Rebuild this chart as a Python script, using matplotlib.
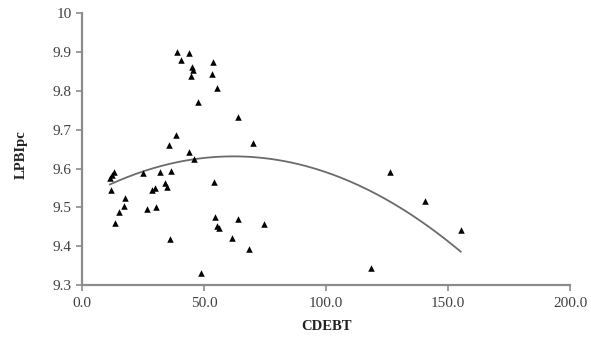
import numpy as np
import matplotlib
matplotlib.use("Agg")
from matplotlib import pyplot as plt

# values
cdebt = [38.7, 43.7, 40.5, 53.7, 45.1, 45.5, 44.4, 53.3, 55.2, 47.3,
         63.7, 38.4, 35.4, 70.2, 43.6, 45.8, 13.0, 12.2, 11.4, 25.0,
         31.7, 36.2, 54.1, 11.9, 33.8, 34.6, 29.9, 28.7, 17.6, 17.1,
         15.3, 26.4, 30.1, 54.4, 13.4, 55.3, 56.1, 63.7, 61.5, 35.8,
         48.6, 68.2, 74.5, 126.2, 140.6, 155.1, 118.3]
lpbipc = [9.901, 9.897, 9.881, 9.875, 9.861, 9.854, 9.839, 9.845, 9.808, 9.771,
          9.732, 9.686, 9.661, 9.665, 9.642, 9.624, 9.591, 9.583, 9.575, 9.588,
          9.591, 9.594, 9.566, 9.545, 9.564, 9.553, 9.551, 9.545, 9.523, 9.503,
          9.489, 9.497, 9.500, 9.474, 9.459, 9.452, 9.448, 9.469, 9.422, 9.418,
          9.331, 9.393, 9.456, 9.591, 9.516, 9.441, 9.344]

x_ticks = [0, 50, 100, 150, 200]
x_tick_labels = ["0.0", "50.0", "100.0", "150.0", "200.0"]
y_ticks = [9.3, 9.4, 9.5, 9.6, 9.7, 9.8, 9.9, 10.0]
y_tick_labels = ["9.3", "9.4", "9.5", "9.6", "9.7", "9.8", "9.9", "10"]

plt.rcParams["font.family"] = ["Liberation Serif", "DejaVu Serif"]

fig = plt.figure(figsize=(5.91, 3.63), dpi=100)
ax = fig.add_axes([0.139, 0.215, 0.826, 0.748])

ax.scatter(cdebt, lpbipc, marker="^", s=22, color="black", linewidths=0, zorder=3)

# polynomial (order 2) trend line
coef = np.polyfit(cdebt, lpbipc, 2)
xs = np.linspace(min(cdebt), max(cdebt), 200)
ax.plot(xs, np.polyval(coef, xs), color="#6b6b6b", linewidth=1.3, zorder=2)

ax.set_xlim(0, 200)
ax.set_ylim(9.3, 10.0)
ax.set_xticks(x_ticks)
ax.set_xticklabels(x_tick_labels)
ax.set_yticks(y_ticks)
ax.set_yticklabels(y_tick_labels)

for side in ["top", "right"]:
    ax.spines[side].set_visible(False)
for side in ["left", "bottom"]:
    ax.spines[side].set_color("#8c8c8c")
    ax.spines[side].set_linewidth(1.6)

ax.tick_params(axis="both", colors="#8c8c8c", length=4, width=1.2,
               labelsize=11, labelcolor="#404040")
ax.tick_params(axis="x", pad=5)

ax.set_xlabel("CDEBT", fontsize=10.5, fontweight="bold", color="#222222", labelpad=7)
ax.set_ylabel("LPBIpc", fontsize=10.5, fontweight="bold", color="#222222", labelpad=20)
ax.yaxis.set_label_coords(-0.112, 0.48)

fig.savefig("out.png", dpi=100)
